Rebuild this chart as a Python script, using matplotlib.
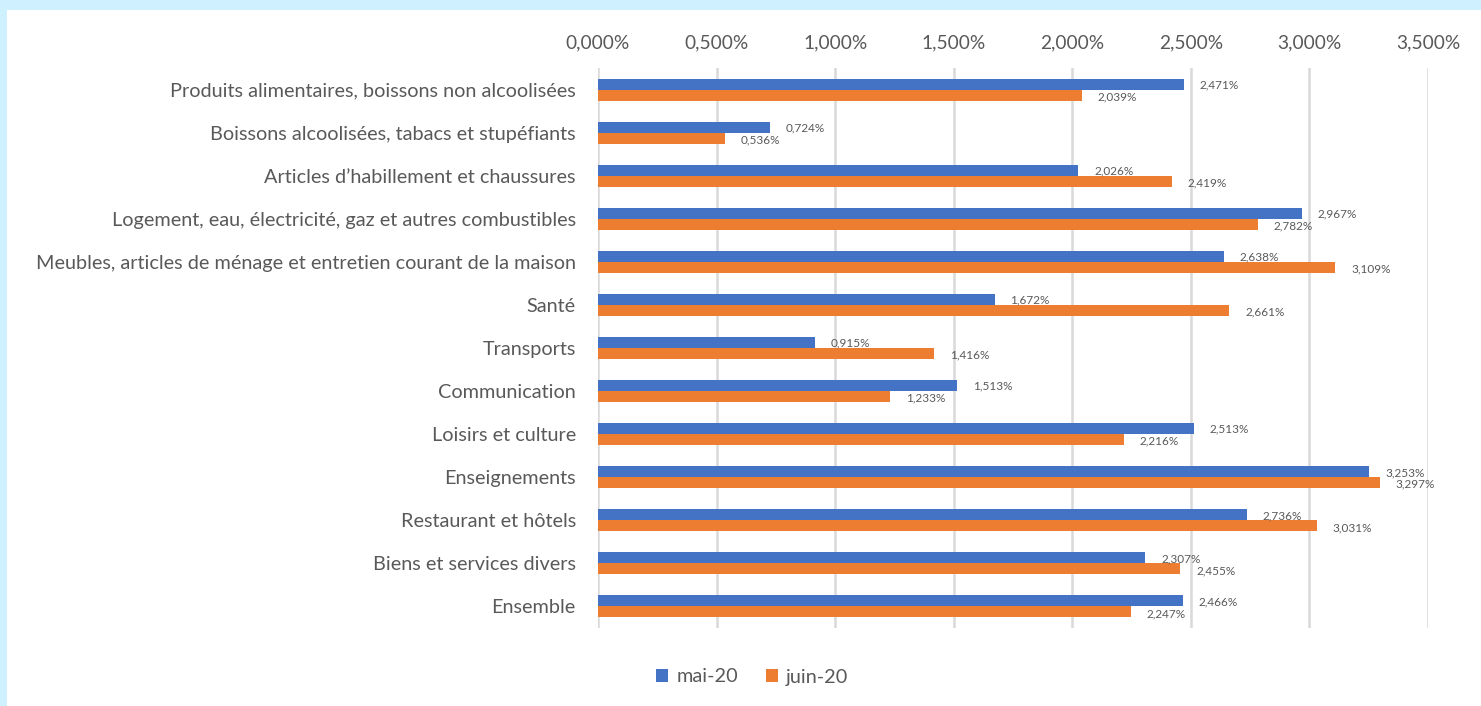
import matplotlib
matplotlib.use("Agg")
import matplotlib.pyplot as plt
from matplotlib.patches import Rectangle
from matplotlib.ticker import FuncFormatter, MultipleLocator

categories = [
    "Produits alimentaires, boissons non alcoolisées",
    "Boissons alcoolisées, tabacs et stupéfiants",
    "Articles d’habillement et chaussures",
    "Logement, eau, électricité, gaz et autres combustibles",
    "Meubles, articles de ménage et entretien courant de la maison",
    "Santé",
    "Transports",
    "Communication",
    "Loisirs et culture",
    "Enseignements",
    "Restaurant et hôtels",
    "Biens et services divers",
    "Ensemble",
]
mai_20 = [2.471, 0.724, 2.026, 2.967, 2.638, 1.672, 0.915, 1.513, 2.513, 3.253, 2.736, 2.307, 2.466]
juin_20 = [2.039, 0.536, 2.419, 2.782, 3.109, 2.661, 1.416, 1.233, 2.216, 3.297, 3.031, 2.455, 2.247]
series_names = ["mai-20", "juin-20"]

BLUE = "#4472c4"
ORANGE = "#ed7d31"
TXT = "#595959"
GRID = "#d9d9d9"

plt.rcParams["font.family"] = ["Lato", "DejaVu Sans"]

fig = plt.figure(figsize=(14.81, 7.06), dpi=100)
fig.patch.set_facecolor("white")
# light blue frame (top and left)
fig.add_artist(Rectangle((0, 0), 1, 1, transform=fig.transFigure, facecolor="#cff0fe",
                         edgecolor="none", zorder=-10))
fig.add_artist(Rectangle((7 / 1481, 0), 1, 1 - 10 / 706, transform=fig.transFigure,
                         facecolor="white", edgecolor="none", zorder=-9))

ax = fig.add_axes([598 / 1481, 1 - 628 / 706, (1428 - 598) / 1481, (628 - 68) / 706])
ax.set_facecolor("none")

n = len(categories)
y = list(range(n))
h = 0.255
ax.barh([v - h / 2 for v in y], mai_20, height=h, color=BLUE, label=series_names[0], zorder=3)
ax.barh([v + h / 2 for v in y], juin_20, height=h, color=ORANGE, label=series_names[1], zorder=3)

fmt = lambda v: f"{v:.3f}%".replace(".", ",")
for i in range(n):
    ax.annotate(fmt(mai_20[i]), (mai_20[i], i - h / 2), xytext=(11.5, -0.5),
                textcoords="offset points", ha="left", va="center", fontsize=8.5, color=TXT)
    ax.annotate(fmt(juin_20[i]), (juin_20[i], i + h / 2), xytext=(11.5, -1.2),
                textcoords="offset points", ha="left", va="center", fontsize=8.5, color=TXT)

ax.set_xlim(0, 3.5)
ax.set_ylim(n - 0.5, -0.5)
ax.xaxis.set_major_locator(MultipleLocator(0.5))
ax.xaxis.set_major_formatter(FuncFormatter(lambda v, p: fmt(v)))
ax.xaxis.tick_top()
ax.tick_params(axis="x", length=0, pad=12, labelsize=13.8, labelcolor=TXT)
ax.set_yticks(y)
ax.set_yticklabels(categories)
ax.tick_params(axis="y", length=0, pad=16, labelsize=14.3, labelcolor=TXT)
ax.grid(axis="x", color=GRID, linewidth=1.8, zorder=0)
for s in ax.spines.values():
    s.set_visible(False)

leg = fig.legend(loc="center", bbox_to_anchor=(752 / 1481, 1 - 677 / 706), ncol=2, frameon=False,
                 fontsize=14.3, handlelength=0.6, handleheight=0.6, handletextpad=0.4,
                 columnspacing=1.4)
for t in leg.get_texts():
    t.set_color(TXT)

fig.savefig("out.png", dpi=100)
